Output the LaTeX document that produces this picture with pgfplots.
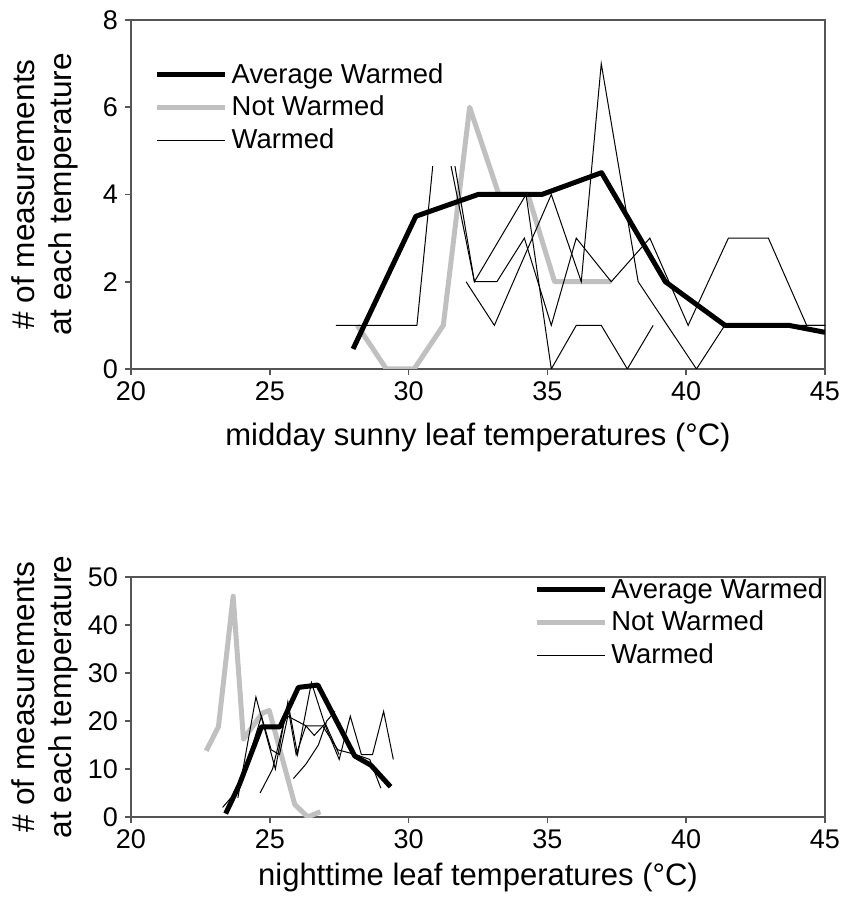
\documentclass[border=0pt]{standalone}
\usepackage{fontspec}
\setmainfont{Liberation Sans}
\usepackage{pgfplots}
\pgfplotsset{compat=1.18}
\definecolor{nw}{RGB}{192,192,192}
\definecolor{frame}{RGB}{85,85,85}

\pgfplotsset{
  panel/.style={
    scale only axis, width=347pt,
    xmin=20, xmax=45, xtick={20,25,...,45},
    axis line style={frame, line width=0.8pt},
    tick style={frame, line width=0.8pt},
    tick align=outside, major tick length=3pt,
    xtick pos=bottom, ytick pos=left,
    ticklabel style={font=\fontsize{13.5}{16}\selectfont},
    label style={font=\fontsize{15.5}{18}\selectfont},
    /pgf/number format/assume math mode=true,
    ylabel={\# of measurements\\at each temperature},
    ylabel style={align=center, inner sep=0pt,
      at={(axis description cs:-0.075,0.5)}, anchor=south,
      font=\fontsize{15.8}{18.5}\selectfont},
    legend style={draw=none, fill=none, font=\fontsize{13.7}{16}\selectfont,
      row sep=1pt, cells={anchor=west}},
    legend image code/.code={\draw[#1] (0pt,0pt) -- (34pt,0pt);},
  },
  avg/.style={black, line width=2.5pt, line join=round},
  notw/.style={nw, line width=2.5pt, line join=round},
  warm/.style={black, line width=0.5pt},
}

\begin{document}
\begin{tikzpicture}

% midday panel
\begin{axis}[panel, at={(0,224pt)}, height=174.5pt,
  ymin=0, ymax=8, ytick={0,2,...,8},
  xlabel={midday sunny leaf temperatures (°C)},
  xlabel style={yshift=-4pt},
  legend style={at={(0.025,0.90)}, anchor=north west}]
\addlegendimage{avg}\addlegendentry{Average Warmed}
\addlegendimage{notw}\addlegendentry{Not Warmed}
\addlegendimage{warm}\addlegendentry{Warmed}

\addplot[notw, forget plot] table {
28.15 1
29.2 0
30.2 0
31.25 1
32.2 6
33.25 4
34.3 4
35.26 2
36.3 2
37.3 2
};
\addplot[avg, forget plot] table {
28.0 0.46
30.26 3.5
32.5 4.0
34.8 4.0
36.95 4.5
39.25 2.0
41.4 1.0
43.7 1.0
45.0 0.84
};
\addplot[warm, forget plot] table {
27.38 1
30.30 1
30.87 4.65
};
\addplot[warm, forget plot] table {
31.53 4.65
32.37 2
34.23 4
35.14 0
36.04 1
36.94 1
37.88 0
38.81 1
};
\addplot[warm, forget plot] table {
31.67 4.65
32.37 2
33.18 2
34.17 3
35.14 1
36.04 3
37.30 2
38.69 3
40.07 1
41.52 3
42.96 3
44.34 1
45 1
};
\addplot[warm, forget plot] table {
32.07 2
33.09 1
35.14 4
36.22 2
36.94 7
38.27 2
40.37 0
41.39 1
45 1
};
\end{axis}

% nighttime panel
\begin{axis}[panel, at={(0,0)}, height=120pt,
  ymin=0, ymax=50, ytick={0,10,...,50},
  xlabel={nighttime leaf temperatures (°C)},
  legend style={at={(0.572,1.03)}, anchor=north west}]
\addlegendimage{avg}\addlegendentry{Average Warmed}
\addlegendimage{notw}\addlegendentry{Not Warmed}
\addlegendimage{warm}\addlegendentry{Warmed}

\addplot[notw, forget plot] table {
22.71 13.8
23.15 18.8
23.68 46
24.05 16.2
24.72 21.6
24.98 22.2
25.9 2.6
26.37 0
26.82 1.1
};
\addplot[avg, forget plot] table {
23.41 0.7
23.90 6.7
24.70 18.8
25.37 18.8
26.03 27.0
26.73 27.5
28.06 12.7
28.64 10.8
29.35 6.3
};
\addplot[warm, forget plot] table {
23.85 4
24.5 25
25.2 10
25.65 24
26.0 13
26.5 28
27.0 19
27.5 12
27.9 21
28.3 13
28.7 13
29.1 22
29.45 12
};
\addplot[warm, forget plot] table {
23.3 2
23.9 6
24.7 21
25.05 14
25.35 13
25.65 21
26.3 19
26.9 19
27.45 14
28.1 13
28.6 12
29.0 6
};
\addplot[warm, forget plot] table {
24.65 5
25.1 10
25.65 23
25.95 13
26.3 19
26.6 17
27.0 19.5
27.5 13
};
\addplot[warm, forget plot] table {
25.85 8
26.3 11
26.75 15
27.05 20
27.35 22
};
\end{axis}
\path (-65.5pt,-43pt) rectangle (356pt,408.5pt);
\end{tikzpicture}
\end{document}
